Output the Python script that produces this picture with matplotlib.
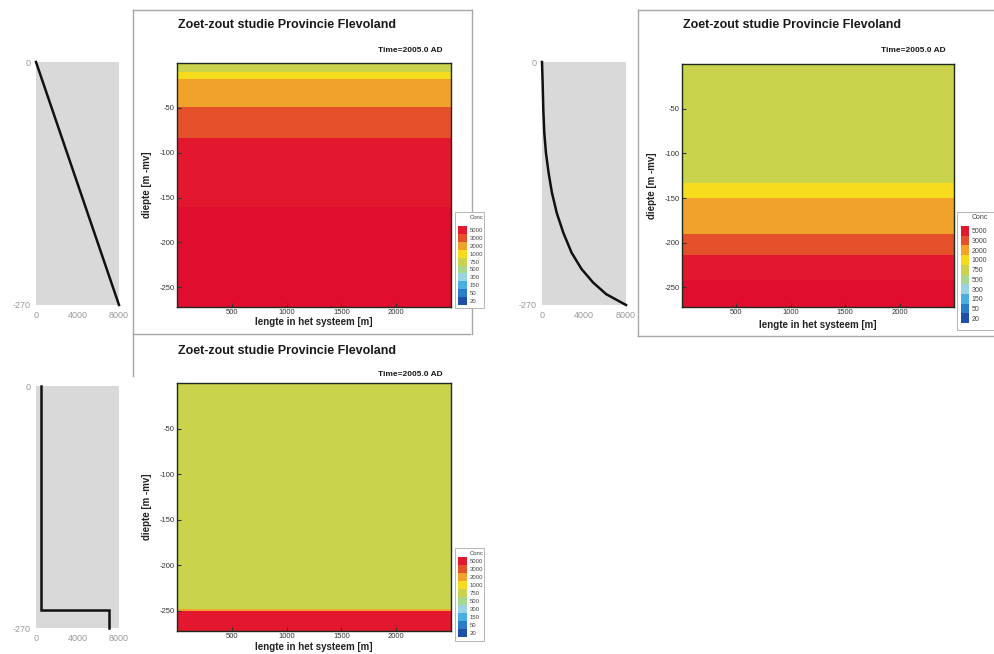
import matplotlib
matplotlib.use("Agg")
import matplotlib.pyplot as plt
import numpy as np
from matplotlib.colors import ListedColormap, BoundaryNorm
from matplotlib.patches import Rectangle
from matplotlib.lines import Line2D

# ---------------- data ----------------
title_text = "Zoet-zout studie Provincie Flevoland"
time_text = "Time=2005.0 AD"
xlabel_text = "lengte in het systeem [m]"
ylabel_text = "diepte [m -mv]"
legend_title = "Conc"

conc_levels = ["20", "50", "150", "300", "500", "750", "1000", "2000", "3000", "5000"]

length_range = [0, 2500]
length_ticks = [500, 1000, 1500, 2000]
depth_ticks = [-50, -100, -150, -200, -250]
profile_xticks = [0, 4000, 8000]
profile_yticks = [0, -270]

# concentration profiles (conc vs depth)
prof1_conc = [0, 8000]
prof1_depth = [0, -270]
prof2_conc = [0, 63, 125, 220, 376, 627, 941, 1412, 2039, 2823, 3765, 4863, 6118, 7059, 8000]
prof2_depth = [0, -24, -53, -79, -101, -123, -145, -168, -190, -212, -230, -245, -258, -264, -270]
prof3_conc = [500, 500, 7000, 7000]
prof3_depth = [0, -250, -250, -270]

# contour bands: depth edges and concentration class of each band
bands1_edges = [0, -10, -18, -49, -84, -160, -272]
bands1_class = [5, 6, 7, 8, 9, 10]
bands2_edges = [0, -133, -150, -190, -214, -242, -272]
bands2_class = [5, 6, 7, 8, 9, 10]
bands3_edges = [0, -248, -250, -272]
bands3_class = [5, 7, 9]

# ---------------- style ----------------
class_colors = ["#1f4fa8", "#2a7cc8", "#4aaee0", "#9ad4e4", "#a9d78e",
                "#c9d44c", "#f6dc1c", "#f0a22a", "#e4502a", "#e3172e", "#e00d2e"]
cmap = ListedColormap(class_colors)
norm = BoundaryNorm(np.arange(-0.5, 11.5), 11)

W, H = 995, 654
plt.rcParams['font.family'] = ['Liberation Sans', 'DejaVu Sans']
plt.rcParams['axes.unicode_minus'] = False
fig = plt.figure(figsize=(W / 100, H / 100), dpi=100)
fig.patch.set_facecolor('white')


def px_axes(x0, y0, x1, y1, **kw):
    return fig.add_axes([x0 / W, 1 - y1 / H, (x1 - x0) / W, (y1 - y0) / H], **kw)


def fx(x):
    return x / W


def fy(y):
    return 1 - y / H


def fline(x0, y0, x1, y1, color='#a8a8a8', lw=1.0):
    fig.add_artist(Line2D([fx(x0), fx(x1)], [fy(y0), fy(y1)], transform=fig.transFigure,
                          color=color, lw=lw, zorder=0))


def draw_profile(box, conc, depth):
    ax = px_axes(*box)
    ax.set_facecolor('#d9d9d9')
    ax.plot(conc, depth, color='#111111', lw=1.8, clip_on=False, solid_joinstyle='miter')
    ax.set_xlim(0, 8000)
    ax.set_ylim(-270, 0)
    ax.set_xticks(profile_xticks)
    ax.set_yticks(profile_yticks)
    for s in ax.spines.values():
        s.set_visible(False)
    ax.tick_params(length=0, labelsize=6.5, colors='#9a9a9a', pad=4)
    return ax


def draw_contour(box, edges, classes, ylab_x, xlab_y):
    ax = px_axes(*box)
    C = np.array(classes).reshape(-1, 1)
    ax.pcolormesh(np.array(length_range), np.array(edges), C, cmap=cmap, norm=norm,
                  shading='flat')
    ax.set_xlim(length_range)
    ax.set_ylim(-272, 0)
    ax.set_xticks(length_ticks)
    ax.set_yticks(depth_ticks)
    ax.tick_params(direction='in', length=3, width=0.8, labelsize=5.5, colors='#333333',
                   pad=1.5)
    for s in ax.spines.values():
        s.set_color('#1e2a1e')
        s.set_linewidth(1.0)
    x0, y0, x1, y1 = box
    fig.text(fx(ylab_x), fy((y0 + y1) / 2), ylabel_text, rotation=90, fontsize=7,
             fontweight='bold', ha='center', va='center', color='#222222')
    fig.text(fx((x0 + x1) / 2), fy(xlab_y), xlabel_text, fontsize=7, fontweight='bold',
             ha='center', va='center', color='#222222')
    return ax


def draw_titles(x_title, y_title, x_time, y_time):
    fig.text(fx(x_title), fy(y_title), title_text, fontsize=9, fontweight='bold',
             ha='left', va='center', color='#1a1a1a')
    fig.text(fx(x_time), fy(y_time), time_text, fontsize=6, fontweight='bold',
             ha='right', va='center', color='#1a1a1a')


def draw_legend(box, sw, fs):
    bx0, by0, bx1, by1 = box
    fig.add_artist(Rectangle((fx(bx0), fy(by1)), (bx1 - bx0) / W, (by1 - by0) / H,
                             transform=fig.transFigure, facecolor='white',
                             edgecolor='#b5b5b5', lw=0.7, zorder=3))
    ax = px_axes(*sw, zorder=4)
    ax.pcolormesh([0, 1], np.arange(11), np.arange(10).reshape(-1, 1), cmap=cmap,
                  norm=norm, shading='flat')
    ax.set_ylim(0, 10)
    ax.set_xlim(0, 1)
    ax.yaxis.tick_right()
    ax.set_yticks(np.arange(10) + 0.5)
    ax.set_yticklabels(conc_levels)
    ax.set_xticks([])
    ax.tick_params(length=0, labelsize=fs, pad=2, colors='#444444')
    for s in ax.spines.values():
        s.set_visible(False)
    fig.text(fx(sw[2] + 3), fy(by0 + 5.5), legend_title, fontsize=fs, color='#444444',
             ha='left', va='center', zorder=5)


# ---------------- frames ----------------
fline(133, 10, 472, 10)
fline(472, 10, 472, 334)
fline(133, 10, 133, 376)
fline(133, 334, 470, 334)
fline(638, 10, 995, 10)
fline(638, 10, 638, 336)
fline(638, 336, 995, 336)

# ---------------- panel 1 ----------------
draw_profile((36, 62, 119, 305), prof1_conc, prof1_depth)
draw_contour((177, 63, 451, 307), bands1_edges, bands1_class, 147, 322)
draw_titles(178, 25, 443, 50)
draw_legend((455, 212, 484, 308), (458, 226, 467, 305), 4.3)

# ---------------- panel 2 ----------------
draw_profile((542, 62, 626, 305), prof2_conc, prof2_depth)
draw_contour((682, 64, 954, 307), bands2_edges, bands2_class, 652, 325)
draw_titles(683, 25, 946, 51)
draw_legend((957, 212, 1000, 330), (961, 226, 969, 323), 5)

# ---------------- panel 3 ----------------
draw_profile((36, 386, 119, 628), prof3_conc, prof3_depth)
draw_contour((177, 383, 451, 631), bands3_edges, bands3_class, 147, 647)
draw_titles(178, 351, 443, 375)
draw_legend((455, 548, 484, 641), (458, 557, 467, 637), 4.3)

fig.savefig("out.png", dpi=100, facecolor='white')
